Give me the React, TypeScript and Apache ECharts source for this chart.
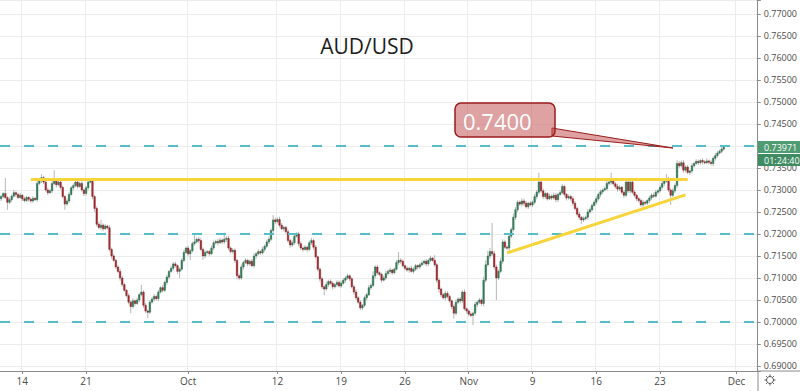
import React, { useEffect, useRef } from "react";
import * as echarts from "echarts";

// ---- data (prices in pips, 4h candles) ----
const FIRST_OPEN_PIPS = 7280;
const CLOSE_PIPS = [
  7285, 7292, 7283, 7272, 7278, 7286, 7294, 7290, 7283, 7288,
  7280, 7276, 7283, 7279, 7275, 7281, 7278, 7315, 7322, 7328,
  7318, 7300, 7294, 7298, 7315, 7320, 7312, 7318, 7306, 7285,
  7268, 7275, 7290, 7305, 7310, 7318, 7308, 7315, 7300, 7292,
  7305, 7318, 7320, 7285, 7258, 7222, 7215, 7220, 7212, 7218,
  7214, 7165, 7150, 7140, 7125, 7115, 7100, 7085, 7072, 7060,
  7045, 7035, 7048, 7042, 7050, 7062, 7068, 7038, 7025, 7022,
  7045, 7052, 7058, 7053, 7068, 7078, 7072, 7090, 7102, 7115,
  7122, 7132, 7128, 7115, 7120, 7140, 7158, 7168, 7155, 7162,
  7178, 7182, 7188, 7185, 7165, 7150, 7158, 7160, 7155, 7168,
  7180, 7183, 7180, 7186, 7182, 7188, 7190, 7168, 7160, 7163,
  7140, 7105, 7100, 7125, 7135, 7140, 7132, 7138, 7128, 7150,
  7155, 7160, 7157, 7165, 7172, 7182, 7188, 7208, 7232, 7228,
  7233, 7220, 7212, 7215, 7205, 7185, 7175, 7180, 7195, 7200,
  7178, 7168, 7165, 7170, 7165, 7180, 7185, 7170, 7148, 7120,
  7098, 7080, 7075, 7085, 7092, 7088, 7080, 7085, 7090, 7082,
  7088, 7095, 7100, 7105, 7098, 7080, 7068, 7055, 7045, 7032,
  7038, 7055, 7062, 7078, 7083, 7105, 7125, 7112, 7108, 7095,
  7100, 7110, 7115, 7118, 7112, 7120, 7135, 7140, 7138, 7128,
  7122, 7118, 7122, 7115, 7120, 7128, 7125, 7130, 7134, 7138,
  7132, 7140, 7145, 7140, 7130, 7095, 7075, 7062, 7055, 7065,
  7058, 7048, 7035, 7020, 7045, 7052, 7048, 7068, 7030, 7025,
  7018, 7015, 7020, 7040, 7045, 7050, 7042, 7095, 7130, 7150,
  7160, 7155, 7125, 7100, 7115, 7138, 7182, 7170, 7168, 7195,
  7210, 7238, 7255, 7272, 7268, 7275, 7270, 7262, 7270, 7266,
  7272, 7285, 7295, 7318, 7298, 7285, 7292, 7280, 7286, 7282,
  7288, 7278, 7290, 7294, 7308, 7290, 7282, 7285, 7280, 7270,
  7258, 7245, 7238, 7232, 7235, 7238, 7250, 7255, 7265, 7272,
  7280, 7290, 7296, 7300, 7303, 7315, 7318, 7320, 7314, 7308,
  7302, 7306, 7295, 7288, 7318, 7298, 7318, 7295, 7288, 7280,
  7276, 7266, 7272, 7270, 7276, 7282, 7288, 7286, 7295, 7298,
  7306, 7315, 7320, 7325, 7300, 7288, 7298, 7310, 7360, 7355,
  7362, 7345, 7352, 7340, 7343, 7355, 7360, 7365, 7362, 7367,
  7364, 7362, 7366, 7363, 7360, 7372, 7378, 7384, 7388, 7393,
  7397,
];
const WICK_UP = [
  4, 3, 35, 3, 5, 4, 6, 3, 4, 5,
  3, 5, 4, 3, 4, 5, 3, 6, 5, 8,
  4, 3, 5, 4, 6, 25, 4, 5, 3, 4,
  3, 5, 6, 4, 5, 6, 3, 4, 5, 3,
  4, 5, 6, 3, 4, 5, 6, 12, 4, 5,
  3, 6, 4, 5, 3, 4, 6, 5, 4, 3,
  5, 4, 6, 3, 5, 4, 16, 4, 5, 3,
  4, 5, 6, 4, 5, 3, 6, 4, 5, 3,
  6, 4, 5, 3, 4, 5, 6, 4, 5, 4,
  5, 20, 4, 5, 6, 4, 5, 3, 4, 6,
  5, 4, 6, 5, 4, 15, 5, 6, 4, 5,
  4, 3, 5, 6, 4, 5, 3, 4, 5, 6,
  4, 5, 3, 6, 4, 5, 6, 5, 11, 5,
  4, 6, 5, 4, 3, 5, 4, 6, 5, 4,
  5, 6, 4, 5, 3, 5, 6, 4, 5, 3,
  4, 5, 3, 6, 4, 5, 4, 3, 5, 4,
  6, 5, 4, 5, 3, 4, 5, 6, 4, 5,
  3, 5, 4, 6, 5, 10, 4, 5, 3, 4,
  5, 6, 4, 5, 3, 4, 6, 19, 5, 4,
  3, 5, 4, 6, 5, 4, 3, 5, 6, 4,
  5, 4, 6, 3, 12, 4, 5, 3, 4, 6,
  5, 4, 3, 5, 6, 4, 5, 4, 6, 3,
  4, 5, 3, 6, 4, 5, 3, 8, 10, 12,
  8, 65, 6, 5, 4, 8, 6, 5, 4, 6,
  5, 8, 6, 5, 4, 6, 5, 4, 3, 5,
  4, 6, 5, 21, 6, 5, 4, 3, 5, 4,
  6, 5, 4, 5, 6, 4, 3, 5, 4, 6,
  5, 4, 6, 3, 5, 4, 6, 5, 4, 5,
  6, 4, 5, 3, 5, 6, 4, 19, 5, 4,
  6, 5, 3, 4, 6, 5, 6, 4, 5, 3,
  4, 5, 6, 4, 3, 5, 4, 6, 5, 4,
  5, 6, 4, 11, 5, 4, 6, 5, 8, 6,
  5, 6, 4, 5, 3, 6, 4, 5, 4, 3,
  5, 4, 6, 3, 5, 4, 6, 5, 4, 9,
  5,
];
const WICK_DN = [
  5, 4, 3, 17, 4, 5, 3, 6, 4, 3,
  5, 4, 3, 6, 5, 4, 3, 5, 4, 6,
  5, 4, 6, 3, 5, 4, 6, 3, 5, 4,
  13, 4, 5, 3, 6, 4, 5, 3, 4, 6,
  5, 4, 3, 6, 8, 5, 4, 6, 5, 3,
  4, 5, 6, 3, 5, 4, 6, 5, 3, 4,
  5, 15, 4, 6, 3, 5, 4, 6, 5, 13,
  4, 3, 5, 4, 6, 3, 5, 4, 6, 5,
  3, 5, 4, 6, 15, 4, 5, 3, 6, 14,
  4, 5, 3, 6, 4, 9, 5, 4, 6, 3,
  5, 4, 6, 3, 5, 4, 6, 5, 4, 5,
  6, 8, 5, 4, 6, 3, 5, 4, 3, 5,
  6, 4, 5, 3, 6, 4, 5, 4, 5, 6,
  4, 5, 3, 6, 4, 5, 6, 4, 5, 3,
  6, 4, 5, 3, 6, 4, 5, 6, 4, 5,
  6, 5, 14, 4, 5, 3, 6, 4, 5, 4,
  5, 3, 6, 4, 5, 4, 6, 5, 4, 5,
  5, 4, 6, 3, 5, 4, 6, 5, 4, 6,
  3, 5, 4, 6, 5, 4, 3, 5, 6, 4,
  5, 4, 6, 3, 5, 4, 6, 5, 3, 4,
  6, 5, 4, 3, 5, 6, 8, 5, 4, 6,
  5, 4, 6, 12, 5, 4, 6, 5, 4, 6,
  5, 4, 22, 5, 6, 4, 5, 6, 5, 4,
  6, 5, 6, 50, 5, 4, 6, 5, 4, 6,
  5, 4, 6, 5, 4, 5, 6, 4, 5, 3,
  5, 4, 6, 5, 4, 6, 5, 4, 3, 5,
  4, 6, 5, 3, 4, 5, 6, 4, 5, 6,
  4, 5, 6, 9, 5, 4, 6, 5, 4, 3,
  5, 4, 6, 5, 3, 4, 5, 6, 4, 5,
  6, 4, 5, 6, 4, 5, 6, 4, 5, 6,
  5, 4, 6, 5, 4, 6, 5, 4, 3, 5,
  4, 5, 6, 4, 5, 22, 4, 5, 6, 5,
  4, 6, 5, 4, 6, 5, 4, 3, 5, 4,
  6, 4, 3, 5, 4, 6, 5, 4, 3, 5,
  4,
];

const LEVELS = [0.74, 0.72, 0.7];
const RESISTANCE_START = [14, 0.7324];
const RESISTANCE_END = [323, 0.7324];
const SUPPORT_START = [238, 0.7157];
const SUPPORT_END = [322, 0.7289];

const TICK_DATES = [
  "2020-09-14", "2020-09-21", "2020-10-01", "2020-10-12", "2020-10-19",
  "2020-10-26", "2020-11-02", "2020-11-09", "2020-11-16", "2020-11-23", "2020-12-01",
];
const TICK_LABELS = ["14", "21", "Oct", "12", "19", "26", "Nov", "9", "16", "23", "Dec"];

const TITLE = "AUD/USD";
const CALLOUT = "0.7400";
const LAST_PRICE = "0.73971";
const COUNTDOWN = "01:24:40";

const N_SLOTS = 356;
const FONT = "'Open Sans', 'Noto Sans', sans-serif";

function buildCategories(n: number): string[] {
  const out: string[] = [];
  let t = Date.UTC(2020, 8, 10);
  let slot = 2;
  while (out.length < n) {
    const d = new Date(t);
    const wd = d.getUTCDay();
    if (wd !== 0 && wd !== 6) {
      for (; slot < 6 && out.length < n; slot++) {
        out.push(`${d.toISOString().slice(0, 10)} ${String(slot * 4).padStart(2, "0")}`);
      }
    }
    slot = 0;
    t += 86400000;
  }
  return out;
}

function buildCandles() {
  const rows: number[][] = [];
  let open = FIRST_OPEN_PIPS;
  CLOSE_PIPS.forEach((close, i) => {
    const hi = Math.max(open, close) + WICK_UP[i];
    const lo = Math.min(open, close) - WICK_DN[i];
    rows.push([i, open / 10000, close / 10000, lo / 10000, hi / 10000]);
    open = close;
  });
  return rows;
}

const isTick = (_i: number, value: string) =>
  value.endsWith(" 00") && TICK_DATES.indexOf(value.slice(0, 10)) >= 0;

export default function App() {
  const ref = useRef<HTMLDivElement>(null);
  useEffect(() => {
    if (!ref.current) return;
    const chart = echarts.init(ref.current, null, { renderer: "svg" });
    const cats = buildCategories(N_SLOTS);
    const candles = buildCandles();
    const cyan = { color: "#55bec6", width: 2, type: [10, 14] as any };
    const yellow = { color: "#f6d43a", width: 3, type: "solid" as any };

    chart.setOption({
      animation: false,
      backgroundColor: "#ffffff",
      grid: { left: -1, right: 42, top: 0, bottom: 20, containLabel: false },
      xAxis: {
        type: "category",
        data: cats,
        boundaryGap: true,
        axisLine: { show: true, lineStyle: { color: "#8a8a8a", width: 1 } },
        axisTick: { show: true, alignWithLabel: true, interval: isTick, length: 3, lineStyle: { color: "#8a8a8a" } },
        axisLabel: {
          interval: isTick,
          formatter: (v: string) => {
            const k = TICK_DATES.indexOf(v.slice(0, 10));
            return k >= 0 ? TICK_LABELS[k] : "";
          },
          color: "#4a4a4a",
          fontSize: 10,
          fontFamily: FONT,
          margin: 5,
          hideOverlap: false,
        },
        splitLine: { show: true, interval: isTick, lineStyle: { color: "#ececec", width: 1 } },
      },
      yAxis: {
        type: "value",
        position: "right",
        min: 0.68886,
        max: 0.77318,
        splitNumber: 17,
        minInterval: 0.005,
        maxInterval: 0.005,
        scale: true,
        axisLine: { show: true, lineStyle: { color: "#8a8a8a", width: 1 } },
        axisTick: { show: true, length: 4, lineStyle: { color: "#8a8a8a" } },
        axisLabel: {
          formatter: (v: number) =>
            Math.abs(v * 200 - Math.round(v * 200)) < 1e-6 ? v.toFixed(5) : "",
          color: "#4a4a4a",
          fontSize: 9,
          fontFamily: FONT,
          margin: 7,
        },
        splitLine: { show: true, lineStyle: { color: "#ececec", width: 1 } },
      },
      series: [
        {
          type: "custom",
          data: candles,
          encode: { x: 0, y: [1, 2, 3, 4] },
          clip: true,
          renderItem: (_params: any, api: any) => {
            const i = api.value(0);
            const o = api.value(1);
            const c = api.value(2);
            const l = api.value(3);
            const h = api.value(4);
            const x = api.coord([i, o])[0];
            const yo = api.coord([i, o])[1];
            const yc = api.coord([i, c])[1];
            const yl = api.coord([i, l])[1];
            const yh = api.coord([i, h])[1];
            const w = api.size([1, 0])[0] * 0.72;
            const up = c >= o;
            return {
              type: "group",
              children: [
                {
                  type: "line",
                  shape: { x1: x, y1: yh, x2: x, y2: yl },
                  style: { stroke: "#a3a3a3", lineWidth: 0.8 },
                },
                {
                  type: "rect",
                  shape: {
                    x: x - w / 2,
                    y: Math.min(yo, yc),
                    width: w,
                    height: Math.max(Math.abs(yo - yc), 1),
                  },
                  style: {
                    fill: up ? "#2f8a5c" : "#c0262d",
                    stroke: up ? "#1f4f37" : "#5c1717",
                    lineWidth: 0.4,
                  },
                },
              ],
            };
          },
          markLine: {
            silent: true,
            symbol: ["none", "none"],
            label: { show: false },
            data: [
              ...LEVELS.map((v) => ({ yAxis: v, lineStyle: cyan })),
              [
                { coord: RESISTANCE_START, lineStyle: yellow },
                { coord: RESISTANCE_END },
              ],
              [
                { coord: SUPPORT_START, lineStyle: yellow },
                { coord: SUPPORT_END },
              ],
            ],
          },
        },
      ],
      graphic: [
        {
          type: "text",
          z: 100,
          style: { text: TITLE, x: 367, y: 46, align: "center", verticalAlign: "middle", fill: "#1c1c1c", font: `21px ${FONT}` },
        },
        {
          type: "polygon",
          z: 100,
          shape: { points: [[552, 128], [673, 148], [552, 136]] },
          style: { fill: "rgba(190,70,70,0.5)", stroke: "#9b1c1c", lineWidth: 1 },
        },
        {
          type: "rect",
          z: 101,
          shape: { x: 455, y: 103, width: 100, height: 34, r: 6 },
          style: { fill: "rgba(190,70,70,0.5)", stroke: "#9b1c1c", lineWidth: 1.5 },
        },
        {
          type: "text",
          z: 102,
          style: { text: CALLOUT, x: 463, y: 121, verticalAlign: "middle", fill: "#ffffff", font: `22px ${FONT}` },
        },
        {
          type: "rect",
          z: 100,
          shape: { x: 758, y: 141, width: 42, height: 12 },
          style: { fill: "#4f9b72" },
        },
        {
          type: "text",
          z: 101,
          style: { text: LAST_PRICE, x: 764, y: 147, verticalAlign: "middle", fill: "#ffffff", font: `9px ${FONT}` },
        },
        {
          type: "rect",
          z: 100,
          shape: { x: 758, y: 154, width: 42, height: 12 },
          style: { fill: "#3f8c63" },
        },
        {
          type: "text",
          z: 101,
          style: { text: COUNTDOWN, x: 764, y: 160, verticalAlign: "middle", fill: "#ffffff", font: `9px ${FONT}` },
        },
        {
          type: "line",
          z: 100,
          shape: { x1: 758, y1: 371, x2: 800, y2: 371 },
          style: { stroke: "#8a8a8a", lineWidth: 1 },
        },
        {
          type: "line",
          z: 100,
          shape: { x1: 758, y1: 371, x2: 758, y2: 391 },
          style: { stroke: "#8a8a8a", lineWidth: 1 },
        },
        {
          type: "circle",
          z: 100,
          shape: { cx: 770, cy: 380, r: 3.5 },
          style: { fill: "none", stroke: "#555", lineWidth: 1 },
        },
        ...[0, 1, 2, 3, 4, 5, 6, 7].map((k) => {
          const a = (k * Math.PI) / 4;
          return {
            type: "line",
            z: 100,
            shape: {
              x1: 770 + Math.cos(a) * 3.5,
              y1: 380 + Math.sin(a) * 3.5,
              x2: 770 + Math.cos(a) * 5.5,
              y2: 380 + Math.sin(a) * 5.5,
            },
            style: { stroke: "#555", lineWidth: 1 },
          };
        }),
      ],
    });
    return () => chart.dispose();
  }, []);
  return (
    <div
      ref={ref}
      style={{ position: "fixed", left: 0, top: 0, width: 800, height: 391, background: "#fff" }}
    />
  );
}
